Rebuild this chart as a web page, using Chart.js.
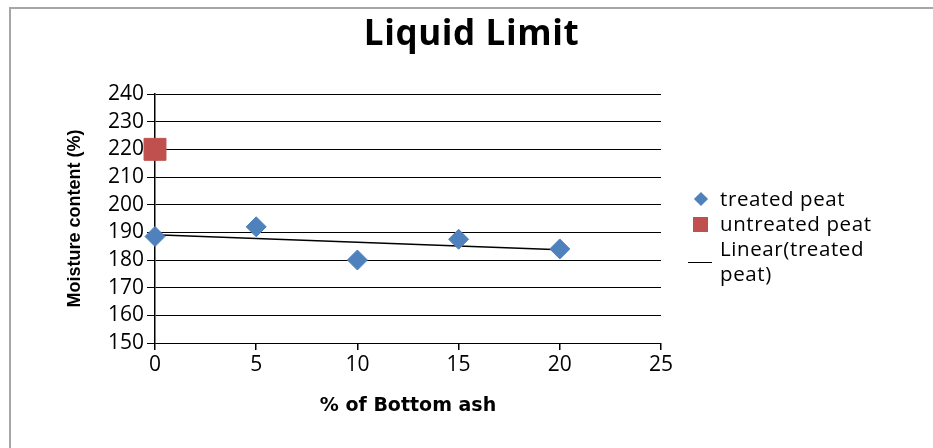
<!DOCTYPE html>
<html>
<head>
<meta charset="utf-8">
<script src="https://cdn.jsdelivr.net/npm/chart.js@4/dist/chart.umd.min.js"></script>
<style>
  html, body { margin: 0; padding: 0; background: #fff; }
  #wrap { position: relative; width: 933px; height: 448px; }
  #wrap canvas { position: absolute; left: 0; top: 0; }
  #frame { position: absolute; left: 9px; top: 7px; right: 0; bottom: 0;
           border-top: 2px solid #a6a6a6; border-left: 2px solid #a6a6a6; }
  #title { position: absolute; left: 0; width: 943px; top: 8px; text-align: center;
           font-family: "Open Sans", Lato, sans-serif; font-weight: bold; font-size: 35px;
           letter-spacing: 0.6px; color: #000; }
  #legend { position: absolute; left: 688px; top: 186px; font-family: "Open Sans", Lato, sans-serif;
            font-size: 20.5px; letter-spacing: 0.6px; color: #000; line-height: 25px; }
  #legend .item { position: relative; padding-left: 32px; }
  #legend .dia { position: absolute; left: 8px; top: 8px; width: 10px; height: 10px;
                 background: #4f81bd; transform: rotate(45deg); }
  #legend .sq { position: absolute; left: 5px; top: 6px; width: 15px; height: 15px; background: #c0504d; }
  #legend .ln { position: absolute; left: 0; top: 26px; width: 24px; border-top: 1.5px solid #000; }
</style>
</head>
<body>
<div id="wrap">
  <div id="frame"></div>
  <canvas id="llChart" width="933" height="448"></canvas>
  <div id="title">Liquid Limit</div>
  <div id="legend">
    <div class="item"><span class="dia"></span>treated peat</div>
    <div class="item"><span class="sq"></span>untreated peat</div>
    <div class="item"><span class="ln"></span>Linear(treated<br>peat)</div>
  </div>
</div>
<script>
const ashPercent = [0, 5, 10, 15, 20];
const treatedLL = [188.5, 192, 180, 187.5, 184];
const untreatedAsh = [0];
const untreatedLL = [220];

// least squares trend for the treated series
function linearFit(xs, ys) {
  const n = xs.length;
  const mx = xs.reduce((a, b) => a + b, 0) / n;
  const my = ys.reduce((a, b) => a + b, 0) / n;
  let num = 0, den = 0;
  for (let i = 0; i < n; i++) {
    num += (xs[i] - mx) * (ys[i] - my);
    den += (xs[i] - mx) * (xs[i] - mx);
  }
  const slope = num / den;
  return x => my + slope * (x - mx);
}
const fit = linearFit(ashPercent, treatedLL);
const xFirst = ashPercent[0], xLast = ashPercent[ashPercent.length - 1];

const tickFont = { family: '"Open Sans", Lato, sans-serif', size: 21 };

new Chart(document.getElementById('llChart').getContext('2d'), {
  type: 'scatter',
  data: {
    datasets: [
      {
        label: 'Linear(treated peat)',
        type: 'line',
        data: [{ x: xFirst, y: fit(xFirst) }, { x: xLast, y: fit(xLast) }],
        borderColor: '#000',
        borderWidth: 1.5,
        pointRadius: 0,
        order: 3
      },
      {
        label: 'treated peat',
        data: ashPercent.map((x, i) => ({ x: x, y: treatedLL[i] })),
        pointStyle: 'rectRot',
        pointRadius: 10,
        pointHoverRadius: 10,
        backgroundColor: '#4f81bd',
        borderColor: '#4f81bd',
        order: 2
      },
      {
        label: 'untreated peat',
        data: untreatedAsh.map((x, i) => ({ x: x, y: untreatedLL[i] })),
        pointStyle: 'rect',
        pointRadius: 15.5,
        pointHoverRadius: 15.5,
        backgroundColor: '#c0504d',
        borderColor: '#c0504d',
        order: 1
      }
    ]
  },
  options: {
    responsive: false,
    animation: false,
    clip: false,
    layout: { padding: { left: 0, right: 272, top: 94, bottom: 0 } },
    plugins: {
      legend: { display: false },
      tooltip: { enabled: false },
      title: { display: false }
    },
    scales: {
      x: {
        type: 'linear',
        min: 0,
        max: 25,
        ticks: { stepSize: 5, autoSkip: false, color: '#000', font: tickFont, padding: 2 },
        grid: { drawOnChartArea: false, drawTicks: true, tickLength: 7, color: '#000', lineWidth: 1.5 },
        border: { display: false },
        title: {
          display: true,
          text: '% of Bottom ash',
          color: '#000',
          font: { family: '"DejaVu Sans", sans-serif', size: 19, weight: 'bold' },
          padding: { top: 0, bottom: 31 }
        },
        afterFit: s => { s.height = 105; }
      },
      y: {
        min: 150,
        max: 240,
        ticks: { stepSize: 10, autoSkip: false, color: '#000', font: tickFont, padding: 3 },
        grid: { color: '#000', lineWidth: 1, tickLength: 8 },
        border: { display: true, color: '#000', width: 1.5 },
        title: {
          display: true,
          text: 'Moisture content (%)',
          color: '#000',
          font: { family: '"Liberation Sans", Arial, sans-serif', size: 18, weight: 'bold' },
          padding: { top: 64, bottom: 0 }
        },
        afterFit: s => { s.width = 155; }
      }
    }
  }
});
</script>
</body>
</html>
